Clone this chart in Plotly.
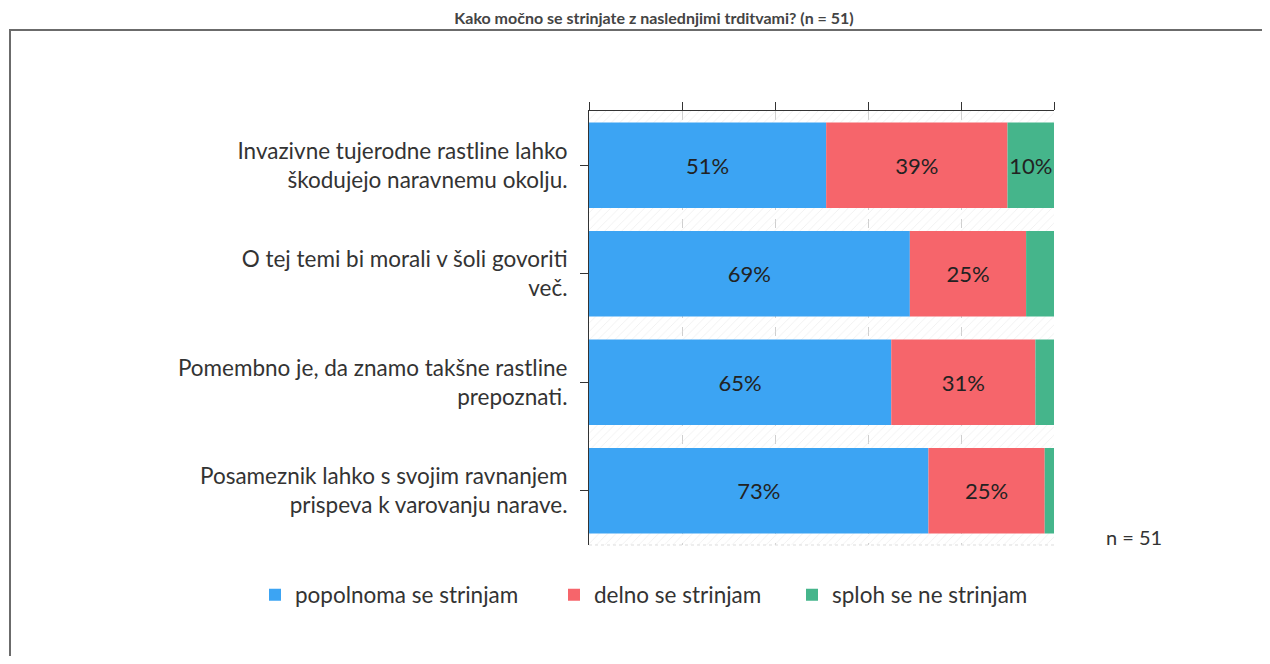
import plotly.graph_objects as go

title = "Kako močno se strinjate z naslednjimi trditvami? (n = 51)"
statements = [
    "Invazivne tujerodne rastline lahko<br>škodujejo naravnemu okolju.",
    "O tej temi bi morali v šoli govoriti<br>več.",
    "Pomembno je, da znamo takšne rastline<br>prepoznati.",
    "Posameznik lahko s svojim ravnanjem<br>prispeva k varovanju narave.",
]
series_names = ["popolnoma se strinjam", "delno se strinjam", "sploh se ne strinjam"]
popolnoma = [51, 69, 65, 73]
delno = [39, 25, 31, 25]
sploh = [10, 6, 4, 2]
colors = ["#3ca4f3", "#f6656b", "#45b58b"]
x_ticks = [0, 20, 40, 60, 80, 100]
n_label = "n = 51"

FONT = "Lato"
FS = 22.5
OFF = 8  # page body margin
W, H = 1270 - 2 * OFF, 664 - 2 * OFF
# plot area in page pixels
PL, PR, PT, PB = 589, 1054, 111, 545
L, R, T, B = PL - OFF, PR - OFF, PT - OFF, PB - OFF
legend_left_px = [255, 554, 792]
legend_ids = ["legend", "legend2", "legend3"]

fig = go.Figure()

# hatched background band across each category
fig.add_trace(go.Bar(
    y=statements, x=[100] * len(statements), base=[0] * len(statements),
    orientation="h", width=1,
    marker=dict(color="rgba(0,0,0,0)", line=dict(width=0),
                pattern=dict(shape="/", fgcolor="#e2e2e2", bgcolor="rgba(0,0,0,0)",
                             size=6, solidity=0.15)),
    showlegend=False, hoverinfo="skip",
))

series = [popolnoma, delno, sploh]
base = [0] * len(statements)
for name, vals, col, lg in zip(series_names, series, colors, legend_ids):
    texts = [f"{v}%" if v >= 10 else "" for v in vals]
    fig.add_trace(go.Bar(
        y=statements, x=vals, base=list(base), orientation="h", name=name,
        width=0.787, marker=dict(color=col, line=dict(width=0)),
        text=texts, textposition="inside", insidetextanchor="middle",
        textangle=0, constraintext="none",
        textfont=dict(family=FONT, size=22, color="#222222"),
        hoverinfo="skip", legend=lg,
    ))
    base = [b + v for b, v in zip(base, vals)]


def xp(px):
    return (px - PL) / (PR - PL)


def yp(py):
    return (PB - py) / (PB - PT)


legend_common = dict(orientation="h", xref="paper", xanchor="left", yref="paper",
                     y=yp(595), yanchor="middle",
                     font=dict(family=FONT, size=FS, color="#333333"),
                     bgcolor="rgba(0,0,0,0)")

fig.update_layout(
    width=W, height=H,
    margin=dict(l=L, r=W - R, t=T, b=H - B, autoexpand=False),
    barmode="overlay",
    paper_bgcolor="white", plot_bgcolor="white",
    title=dict(text=f"<b>{title}</b>", x=(654 - OFF) / W, xanchor="center",
               y=1 - (18 - OFF) / H, yanchor="middle",
               font=dict(family=FONT, size=16, color="#444444")),
    font=dict(family=FONT, size=FS, color="#333333"),
    xaxis=dict(range=[0, 100], side="top", tickvals=x_ticks, showticklabels=False,
               ticks="outside", ticklen=8, tickcolor="#333333",
               showgrid=True, gridcolor="#cfcfcf", griddash="dash", gridwidth=1,
               showline=True, linecolor="#333333", linewidth=1, zeroline=False,
               fixedrange=True),
    yaxis=dict(autorange=False, range=[len(statements) - 0.5, -0.5],
               ticks="outside", ticklen=8, tickcolor="#333333",
               showline=True, linecolor="#333333", linewidth=1,
               ticklabelstandoff=8,
               tickfont=dict(family=FONT, size=FS, color="#333333"),
               fixedrange=True),
    legend=dict(x=xp(legend_left_px[0]), **legend_common),
    legend2=dict(x=xp(legend_left_px[1]), **legend_common),
    legend3=dict(x=xp(legend_left_px[2]), **legend_common),
    annotations=[dict(text=n_label, xref="paper", yref="paper", x=xp(1104), y=yp(537),
                      xanchor="left", yanchor="middle", showarrow=False,
                      font=dict(family=FONT, size=20, color="#333333"))],
    shapes=[
        # outer frame
        dict(type="rect", xref="paper", yref="paper",
             x0=xp(10), x1=xp(1290), y0=yp(700), y1=yp(30),
             line=dict(color="#6b6b6b", width=2), fillcolor="rgba(0,0,0,0)", layer="below"),
        # faint bottom plot border
        dict(type="line", xref="paper", yref="paper", x0=0, x1=1, y0=0, y1=0,
             line=dict(color="#dddddd", width=1, dash="dot")),
    ],
)

fig.write_html("out.html")
